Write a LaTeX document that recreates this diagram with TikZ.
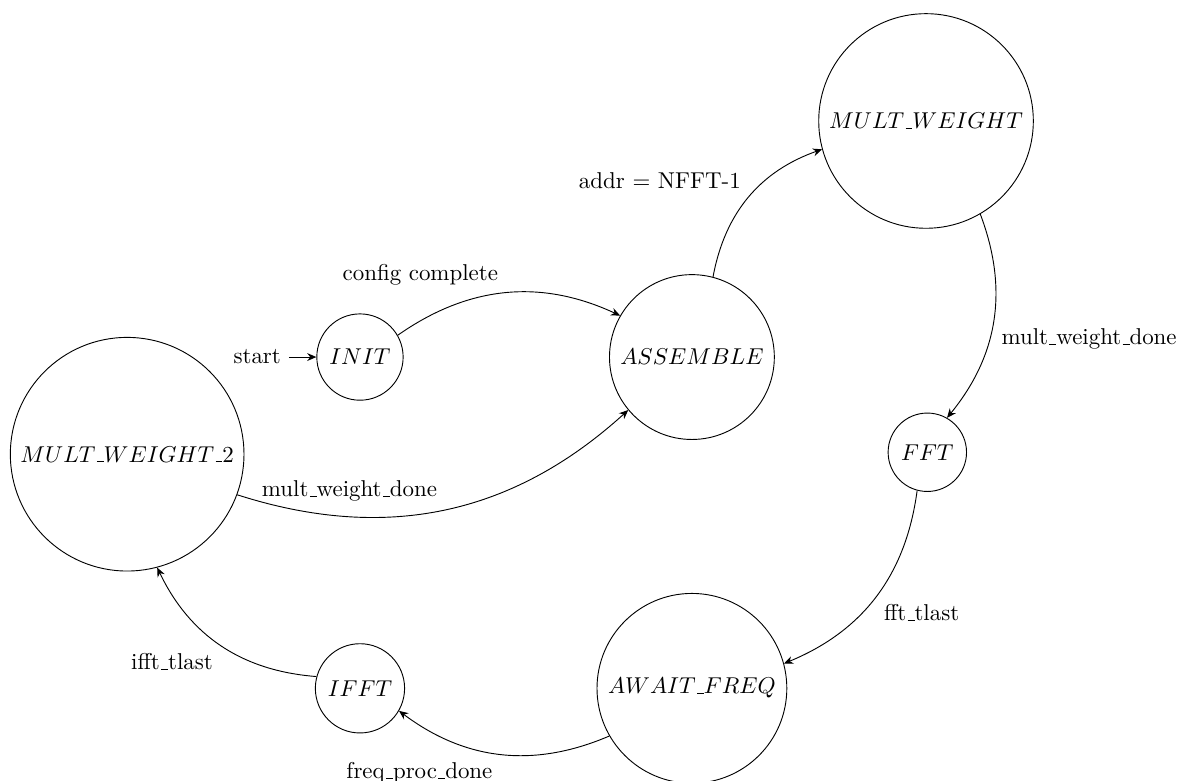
\documentclass[tikz,border=0pt]{standalone}
\usepackage{tikz}
\usetikzlibrary{arrows.meta, positioning}

% guion bajo corto (como en OT1)
\newcommand{\guion}{\leavevmode\kern.06em\vbox{\hrule width.3em}}

\begin{document}
\begin{tikzpicture}[>={Stealth[length=1.4mm, width=1.2mm]}, line width=0.4pt, auto,
    estado/.style={circle, draw, inner sep=4pt}]
  \useasboundingbox (-5.52,-6.49) rectangle (12.82,5.475);
  % ===== Estados =====
  \node[estado] (init) at (0,0) {$INIT$};
  \node[estado] (assemble) at (5.09,0) {$ASSEMBLE$};
  \node[estado] (mw) at (8.68,3.62) {$MULT\guion WEIGHT$};
  \node[estado] (fft) at (8.70,-1.46) {$FFT$};
  \node[estado] (await) at (5.09,-5.08) {$AWAIT\guion FREQ$};
  \node[estado] (ifft) at (0,-5.08) {$IFFT$};
  \node[estado] (mw2) at (-3.57,-1.49) {$MULT\guion WEIGHT\guion 2$};
  \node[left=0.42cm of init] (start) {start};
  % ===== Transiciones =====
  \draw[->] (start) -- (init);
  \draw[->] (init) to[bend left] node {config complete} (assemble);
  \draw[->] (assemble) to[bend left] node {addr = NFFT-1} (mw);
  \draw[->] (mw) to[bend left] node {mult\guion weight\guion done} (fft);
  \draw[->] (fft) to[bend left] node {fft\guion tlast} (await);
  \draw[->] (await) to[bend left] node {freq\guion proc\guion done} (ifft);
  \draw[->] (ifft) to[bend left] node {ifft\guion tlast} (mw2);
  \draw[->] (mw2) to[bend right] node {mult\guion weight\guion done} (assemble);
\end{tikzpicture}
\end{document}
